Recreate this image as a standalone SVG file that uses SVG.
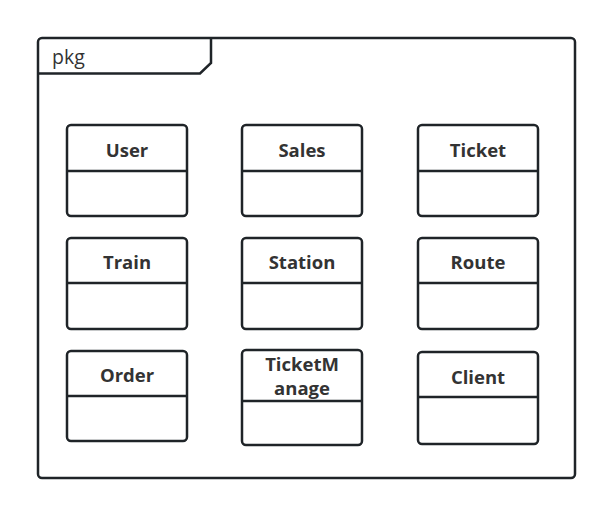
<svg xmlns="http://www.w3.org/2000/svg" width="612" height="516" viewBox="0 0 612 516">
<style>
.frame{fill:#fff;stroke:#1f2428;stroke-width:2.5}
.box{fill:#fff;stroke:#1f2428;stroke-width:2.5}
.div{stroke:#1f2428;stroke-width:2.5}
.t{font-family:"Open Sans","DejaVu Sans",sans-serif;font-size:18.5px;font-weight:bold;fill:#333;text-anchor:middle}
.pkg{font-family:"Open Sans","DejaVu Sans",sans-serif;font-size:19.5px;fill:#333}
</style>
<rect width="612" height="516" fill="#fff"/>
<g id="package">
<rect class="frame" x="38" y="38" width="537" height="440" rx="4"/>
<path class="frame" d="M38,73.5 H200 L211,63 V38" style="fill:none"/>
<text class="pkg" x="52" y="64">pkg</text>
</g>
<g id="connectors"></g>
<g id="User"><rect class="box" x="67" y="125" width="120" height="91" rx="4"/><line class="div" x1="67" y1="171" x2="187" y2="171"/><text class="t" x="127" y="157">User</text></g>
<g id="Sales"><rect class="box" x="242" y="125" width="120" height="91" rx="4"/><line class="div" x1="242" y1="171" x2="362" y2="171"/><text class="t" x="302" y="157">Sales</text></g>
<g id="Ticket"><rect class="box" x="418" y="125" width="120" height="91" rx="4"/><line class="div" x1="418" y1="171" x2="538" y2="171"/><text class="t" x="478" y="157">Ticket</text></g>
<g id="Train"><rect class="box" x="67" y="238" width="120" height="91" rx="4"/><line class="div" x1="67" y1="283" x2="187" y2="283"/><text class="t" x="127" y="269">Train</text></g>
<g id="Station"><rect class="box" x="242" y="238" width="120" height="91" rx="4"/><line class="div" x1="242" y1="283" x2="362" y2="283"/><text class="t" x="302" y="269">Station</text></g>
<g id="Route"><rect class="box" x="418" y="238" width="120" height="91" rx="4"/><line class="div" x1="418" y1="283" x2="538" y2="283"/><text class="t" x="478" y="269">Route</text></g>
<g id="Order"><rect class="box" x="67" y="351" width="120" height="90" rx="4"/><line class="div" x1="67" y1="396" x2="187" y2="396"/><text class="t" x="127" y="382">Order</text></g>
<g id="TicketManage"><rect class="box" x="242" y="350" width="120" height="95" rx="4"/><line class="div" x1="242" y1="401" x2="362" y2="401"/><text class="t" x="302" y="371">TicketM</text><text class="t" x="302" y="394.5">anage</text></g>
<g id="Client"><rect class="box" x="418" y="352" width="120" height="92" rx="4"/><line class="div" x1="418" y1="397" x2="538" y2="397"/><text class="t" x="478" y="384">Client</text></g>
</svg>
